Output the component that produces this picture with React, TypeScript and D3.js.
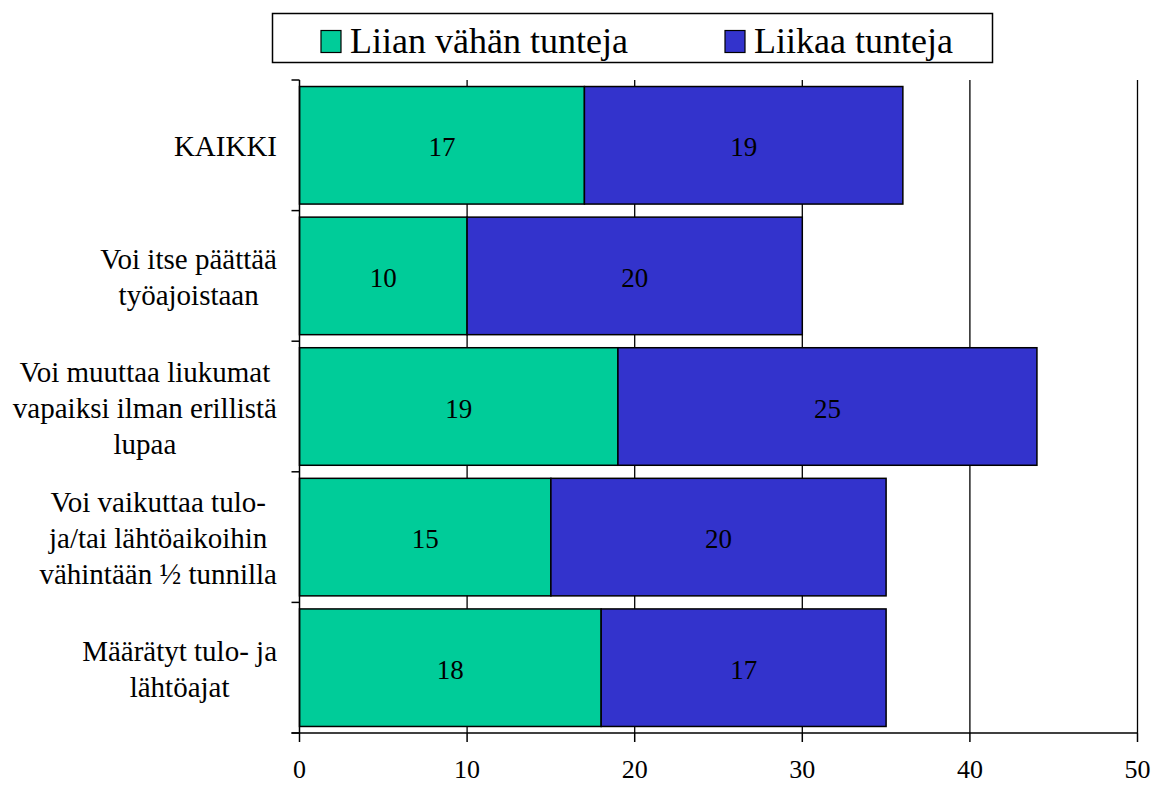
import React, { useEffect, useRef } from "react";
import * as d3 from "d3";

const categories: string[][] = [
  ["KAIKKI"],
  ["Voi itse päättää", "työajoistaan"],
  ["Voi muuttaa liukumat", "vapaiksi ilman erillistä", "lupaa"],
  ["Voi vaikuttaa tulo-", "ja/tai lähtöaikoihin", "vähintään ½ tunnilla"],
  ["Määrätyt tulo- ja", "lähtöajat"],
];
const tooFew = [17, 10, 19, 15, 18];
const tooMany = [19, 20, 25, 20, 17];
const seriesNames = ["Liian vähän tunteja", "Liikaa tunteja"];
const seriesColors = ["#00CC99", "#3333CC"];
const xTicks = [0, 10, 20, 30, 40, 50];

const W = 1153;
const H = 785;
const FONT = '"Liberation Serif", "Times New Roman", serif';

const App = () => {
  const svgRef = useRef<SVGSVGElement>(null);

  useEffect(() => {
    const svg = d3.select(svgRef.current);
    svg.selectAll("*").remove();

    const left = 299.5;
    const right = 1137.5;
    const top = 80;
    const bottom = 733;

    const x = d3.scaleLinear().domain([0, 50]).range([left, right]);
    const y = d3
      .scaleBand<number>()
      .domain(categories.map((_, i) => i))
      .range([top, bottom])
      .paddingInner(0.1)
      .paddingOuter(0.05);

    // gridlines
    svg
      .append("g")
      .selectAll("line")
      .data(xTicks.slice(1))
      .enter()
      .append("line")
      .attr("x1", (d) => x(d))
      .attr("x2", (d) => x(d))
      .attr("y1", top)
      .attr("y2", bottom)
      .attr("stroke", "#000")
      .attr("stroke-width", 1.3);

    // bars
    const rows = categories.map((_, i) => [tooFew[i], tooMany[i]]);
    rows.forEach((vals, i) => {
      let acc = 0;
      vals.forEach((v, s) => {
        const x0 = x(acc);
        const x1 = x(acc + v);
        svg
          .append("rect")
          .attr("x", x0)
          .attr("y", y(i)!)
          .attr("width", x1 - x0)
          .attr("height", y.bandwidth())
          .attr("fill", seriesColors[s])
          .attr("stroke", "#000")
          .attr("stroke-width", 1.5);
        svg
          .append("text")
          .attr("x", (x0 + x1) / 2)
          .attr("y", y(i)! + y.bandwidth() / 2 + 11)
          .attr("text-anchor", "middle")
          .style("font-family", FONT)
          .style("font-size", "27px")
          .attr("fill", "#000")
          .text(v);
        acc += v;
      });
    });

    // y axis
    svg
      .append("line")
      .attr("x1", left)
      .attr("x2", left)
      .attr("y1", top)
      .attr("y2", bottom)
      .attr("stroke", "#000")
      .attr("stroke-width", 1.5);
    const bounds = d3.range(categories.length + 1).map((i) => top + (i * (bottom - top)) / categories.length);
    svg
      .append("g")
      .selectAll("line")
      .data(bounds)
      .enter()
      .append("line")
      .attr("x1", left - 8)
      .attr("x2", left)
      .attr("y1", (d) => d)
      .attr("y2", (d) => d)
      .attr("stroke", "#000")
      .attr("stroke-width", 1.5);

    // category labels, wrapped lines centred in a right-aligned block
    const lineH = 36;
    categories.forEach((lines, i) => {
      const cy = (bounds[i] + bounds[i + 1]) / 2;
      const g = svg.append("g");
      const texts = lines.map((ln, j) =>
        g
          .append("text")
          .attr("y", cy + (j - (lines.length - 1) / 2) * lineH + 11)
          .attr("text-anchor", "middle")
          .style("font-family", FONT)
          .style("font-size", "29px")
          .attr("fill", "#000")
          .text(ln)
      );
      const maxW = d3.max(texts, (t) => (t.node() as SVGTextElement).getComputedTextLength()) || 0;
      texts.forEach((t) => t.attr("x", 277 - maxW / 2));
    });

    // x axis
    svg
      .append("line")
      .attr("x1", left - 8)
      .attr("x2", right)
      .attr("y1", bottom)
      .attr("y2", bottom)
      .attr("stroke", "#000")
      .attr("stroke-width", 1.5);
    const xt = svg.append("g").selectAll("g").data(xTicks).enter().append("g");
    xt.append("line")
      .attr("x1", (d) => x(d))
      .attr("x2", (d) => x(d))
      .attr("y1", bottom)
      .attr("y2", bottom + 9)
      .attr("stroke", "#000")
      .attr("stroke-width", 1.5);
    xt.append("text")
      .attr("x", (d) => x(d))
      .attr("y", 778)
      .attr("text-anchor", "middle")
      .style("font-family", FONT)
      .style("font-size", "26px")
      .attr("fill", "#000")
      .text((d) => d);

    // legend
    svg
      .append("rect")
      .attr("x", 272.5)
      .attr("y", 13.5)
      .attr("width", 720)
      .attr("height", 49)
      .attr("fill", "#fff")
      .attr("stroke", "#000")
      .attr("stroke-width", 1.5);
    const legendX = [321, 725];
    seriesNames.forEach((name, s) => {
      svg
        .append("rect")
        .attr("x", legendX[s])
        .attr("y", 30.5)
        .attr("width", 20)
        .attr("height", 22)
        .attr("fill", seriesColors[s])
        .attr("stroke", "#000")
        .attr("stroke-width", 1.2);
      svg
        .append("text")
        .attr("x", legendX[s] + 29)
        .attr("y", 53)
        .style("font-family", FONT)
        .style("font-size", "36px")
        .attr("fill", "#000")
        .text(name);
    });
  }, []);

  return (
    <svg
      ref={svgRef}
      width={W}
      height={H}
      style={{ position: "absolute", left: 0, top: 0, background: "#fff" }}
    ></svg>
  );
};

export default App;
